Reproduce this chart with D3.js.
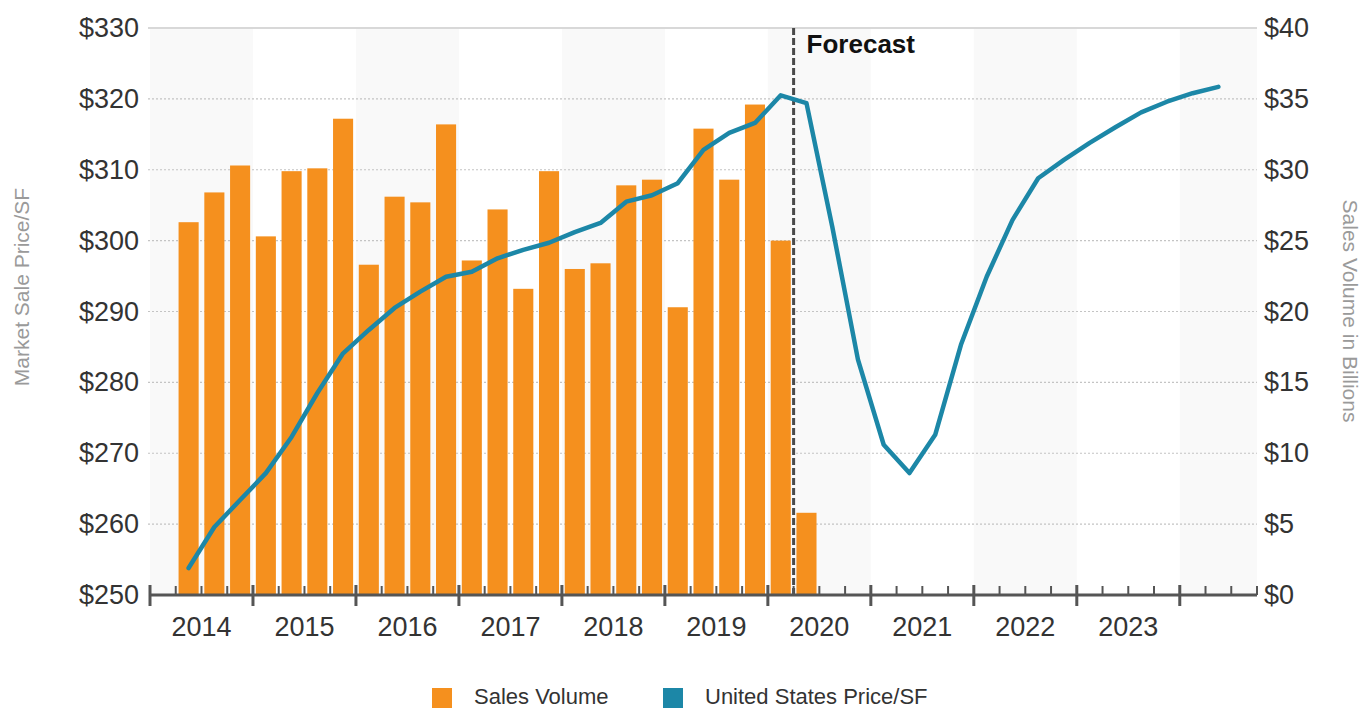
<!DOCTYPE html>
<html>
<head>
<meta charset="utf-8">
<script src="https://cdn.jsdelivr.net/npm/d3@7"></script>
<style>
  html, body { margin: 0; padding: 0; background: #fff; }
  svg { display: block; font-family: "Liberation Sans", Arial, sans-serif; }
</style>
</head>
<body>
<svg id="chart" width="1361" height="710"></svg>
<script>
// ---- Data ----
const quarters = [
  "2014Q2","2014Q3","2014Q4",
  "2015Q1","2015Q2","2015Q3","2015Q4",
  "2016Q1","2016Q2","2016Q3","2016Q4",
  "2017Q1","2017Q2","2017Q3","2017Q4",
  "2018Q1","2018Q2","2018Q3","2018Q4",
  "2019Q1","2019Q2","2019Q3","2019Q4",
  "2020Q1","2020Q2","2020Q3","2020Q4",
  "2021Q1","2021Q2","2021Q3","2021Q4",
  "2022Q1","2022Q2","2022Q3","2022Q4",
  "2023Q1","2023Q2","2023Q3","2023Q4",
  "2024Q1","2024Q2"
];
// Sales volume ($ billions), right axis — 2014Q2 .. 2020Q2
const salesVolume = [26.3, 28.4, 30.3, 25.3, 29.9, 30.1, 33.6, 23.3, 28.1, 27.7,
  33.2, 23.6, 27.2, 21.6, 29.9, 23.0, 23.4, 28.9, 29.3, 20.3,
  32.9, 29.3, 34.6, 25.0, 5.8];
// United States Price/SF, left axis — 2014Q2 .. 2024Q2
const pricePerSF = [253.8, 259.6, 263.4, 267.2, 272.3, 278.5, 284.1, 287.4, 290.5, 292.8,
  294.9, 295.6, 297.5, 298.7, 299.7, 301.2, 302.5, 305.5, 306.4, 308.1,
  312.8, 315.2, 316.6, 320.5, 319.4, 302.0, 283.2, 271.2, 267.2, 272.6,
  285.3, 294.9, 302.9, 308.8, 311.4, 313.8, 316.0, 318.1, 319.6, 320.8, 321.7];
const years = [2014, 2015, 2016, 2017, 2018, 2019, 2020, 2021, 2022, 2023];
const leftTicks = [250, 260, 270, 280, 290, 300, 310, 320, 330];
const rightTicks = [0, 5, 10, 15, 20, 25, 30, 35, 40];
const forecastStart = "2020Q2";
const seriesNames = ["Sales Volume", "United States Price/SF"];

(function () {
// ---- Layout ----
const pLeft = 150, pRight = 1257, pTop = 28, pBottom = 595;
const C_ORANGE = "#F5901E", C_BLUE = "#1C87A7";
const C_TEXT = "#333333", C_TITLE = "#9a9a9a";

const svg = d3.select("#chart");

// slot index (quarters since 2014Q1)
const slotOf = q => (+q.slice(0, 4) - 2014) * 4 + (+q.slice(5) - 1);
const x = d3.scaleLinear().domain([0, 43]).range([pLeft, pRight]);
const yL = d3.scaleLinear().domain([250, 330]).range([pBottom, pTop]);
const yR = d3.scaleLinear().domain([0, 40]).range([pBottom, pTop]);

// Alternating year bands
const bandYears = d3.range(2014, 2025).filter((y, i) => i % 2 === 0);
svg.append("g").selectAll("rect").data(bandYears).join("rect")
  .attr("x", d => x((d - 2014) * 4))
  .attr("width", d => Math.min(x((d - 2014) * 4 + 4), pRight) - x((d - 2014) * 4))
  .attr("y", pTop).attr("height", pBottom - pTop)
  .attr("fill", "#f9f9f9");

// Gridlines
svg.append("g").selectAll("line").data(leftTicks.filter(t => t > 250)).join("line")
  .attr("x1", pLeft - 2).attr("x2", pRight)
  .attr("y1", d => yL(d)).attr("y2", d => yL(d))
  .attr("stroke", d => d === 330 ? "#d8d8d8" : "#c4c4c4")
  .attr("stroke-width", d => d === 330 ? 2 : 1.2)
  .attr("stroke-dasharray", d => d === 330 ? null : "2,2");

// Bars
const bw = (x(1) - x(0)) * 0.78;
svg.append("g").selectAll("rect").data(salesVolume).join("rect")
  .attr("x", (d, i) => x(slotOf(quarters[i]) + 0.5) - bw / 2)
  .attr("width", bw)
  .attr("y", d => yR(d))
  .attr("height", d => pBottom - yR(d))
  .attr("fill", C_ORANGE);

// Forecast divider
const fx = x(slotOf(forecastStart));
svg.append("line")
  .attr("x1", fx).attr("x2", fx).attr("y1", pTop).attr("y2", pBottom)
  .attr("stroke", "#4a4a4a").attr("stroke-width", 3)
  .attr("stroke-dasharray", "7,3");
svg.append("text")
  .attr("x", fx + 13).attr("y", 53)
  .attr("font-size", 26).attr("font-weight", "bold").attr("fill", "#111")
  .text("Forecast");

// Price line
const line = d3.line()
  .x((d, i) => x(slotOf(quarters[i]) + 0.5))
  .y(d => yL(d))
  .curve(d3.curveLinear);
svg.append("path")
  .datum(pricePerSF)
  .attr("d", line)
  .attr("fill", "none")
  .attr("stroke", C_BLUE)
  .attr("stroke-width", 4.5)
  .attr("stroke-linejoin", "round")
  .attr("stroke-linecap", "round");

// X axis
const axisG = svg.append("g");
axisG.append("line")
  .attr("x1", pLeft).attr("x2", pRight).attr("y1", pBottom).attr("y2", pBottom)
  .attr("stroke", "#555").attr("stroke-width", 3);
const slots = d3.range(0, 44);
axisG.selectAll("line.tick").data(slots).join("line")
  .attr("class", "tick")
  .attr("x1", d => x(d)).attr("x2", d => x(d))
  .attr("y1", d => d % 4 === 0 ? pBottom - 10 : pBottom - 9)
  .attr("y2", d => d % 4 === 0 ? pBottom + 11 : pBottom)
  .attr("stroke", "#555")
  .attr("stroke-width", d => d % 4 === 0 ? 3 : 2);
axisG.selectAll("text").data(years).join("text")
  .attr("x", d => x((d - 2014) * 4 + 2))
  .attr("y", 636)
  .attr("text-anchor", "middle")
  .attr("font-size", 27).attr("fill", C_TEXT)
  .text(d => d);

// Left axis labels
svg.append("g").selectAll("text").data(leftTicks).join("text")
  .attr("x", 139).attr("y", d => yL(d) + 9)
  .attr("text-anchor", "end")
  .attr("font-size", 27).attr("fill", C_TEXT)
  .text(d => "$" + d);

// Right axis labels
svg.append("g").selectAll("text").data(rightTicks).join("text")
  .attr("x", 1264).attr("y", d => yR(d) + 9)
  .attr("text-anchor", "start")
  .attr("font-size", 27).attr("fill", C_TEXT)
  .text(d => "$" + d);

// Axis titles
svg.append("text")
  .attr("transform", "translate(29,287) rotate(-90)")
  .attr("text-anchor", "middle")
  .attr("font-size", 21).attr("fill", C_TITLE)
  .text("Market Sale Price/SF");
svg.append("text")
  .attr("transform", "translate(1343,311) rotate(90)")
  .attr("text-anchor", "middle")
  .attr("font-size", 21).attr("fill", C_TITLE)
  .text("Sales Volume in Billions");

// Legend
const legendItems = [
  { name: seriesNames[0], color: C_ORANGE, x: 432 },
  { name: seriesNames[1], color: C_BLUE, x: 663 }
];
const lg = svg.append("g");
legendItems.forEach(it => {
  lg.append("rect").attr("x", it.x).attr("y", 688).attr("width", 20).attr("height", 20).attr("fill", it.color);
  lg.append("text").attr("x", it.x + 42).attr("y", 704)
    .attr("font-size", 22).attr("fill", C_TEXT).text(it.name);
});
})();
</script>
</body>
</html>
